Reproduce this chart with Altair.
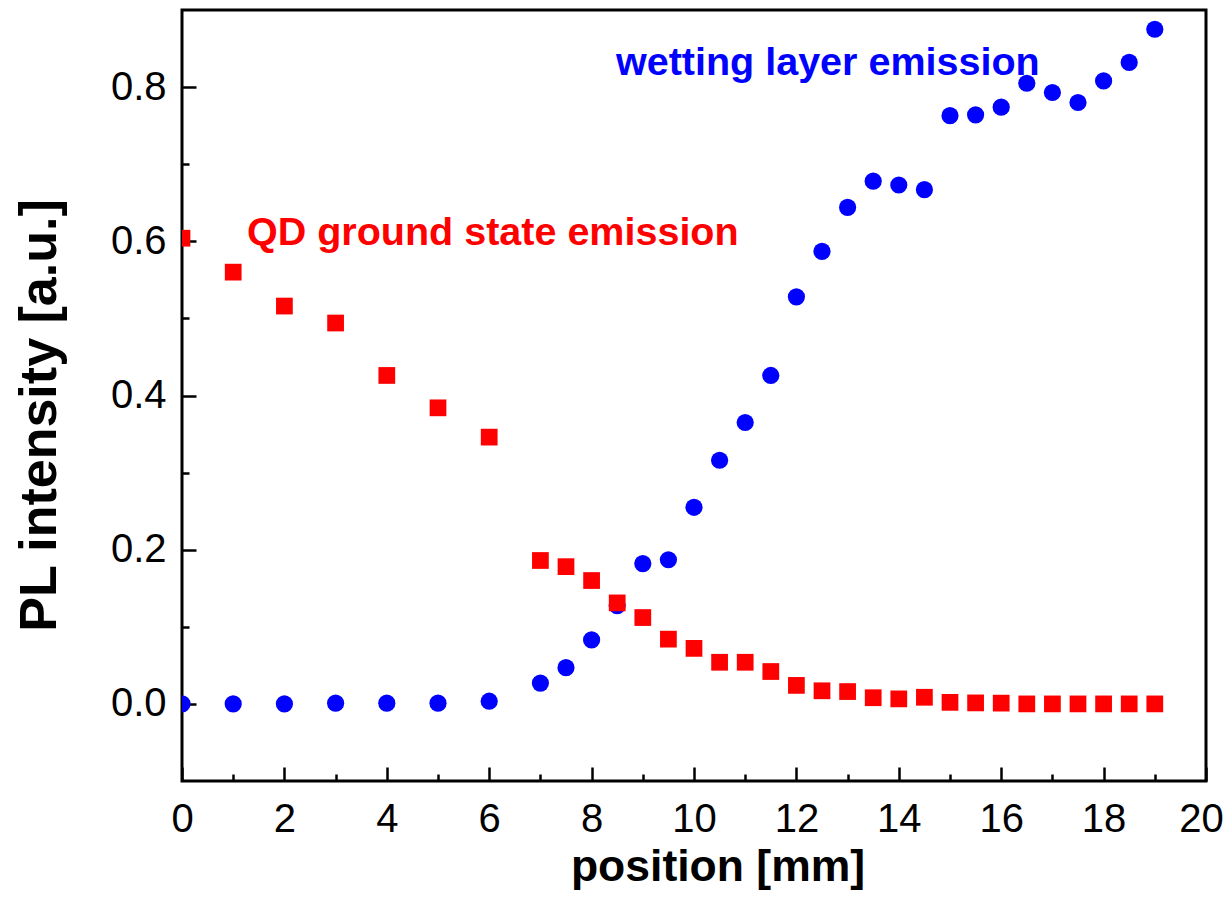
import altair as alt
import pandas as pd

# ---- data ----
position = [0, 1, 2, 3, 4, 5, 6, 7, 7.5, 8, 8.5, 9, 9.5, 10, 10.5, 11, 11.5, 12,
            12.5, 13, 13.5, 14, 14.5, 15, 15.5, 16, 16.5, 17, 17.5, 18, 18.5, 19]
qd_intensity = [0.604, 0.560, 0.516, 0.494, 0.426, 0.384, 0.346,
                0.186, 0.178, 0.160, 0.131, 0.112, 0.084, 0.072, 0.054, 0.054,
                0.042, 0.024, 0.017, 0.016, 0.008, 0.0065, 0.0086, 0.002,
                0.0013, 0.001, 0.0, 0.0, 0.0, 0.0, 0.0, 0.0]
wl_intensity = [0.0, 0.0, 0.0, 0.001, 0.001, 0.001, 0.0035,
                0.027, 0.047, 0.083, 0.1275, 0.182, 0.187, 0.255, 0.316, 0.365,
                0.426, 0.528, 0.587, 0.644, 0.678, 0.673, 0.667, 0.763,
                0.764, 0.774, 0.805, 0.793, 0.780, 0.808, 0.832, 0.875]

x_major_ticks = [0, 2, 4, 6, 8, 10, 12, 14, 16, 18, 20]
x_minor_ticks = [1, 3, 5, 7, 9, 11, 13, 15, 17, 19]
y_major_ticks = [0.0, 0.2, 0.4, 0.6, 0.8]
y_minor_ticks = [0.1, 0.3, 0.5, 0.7]

qd_label = "QD ground state emission"
wl_label = "wetting layer emission"
x_title = "position [mm]"
y_title = "PL intensity [a.u.]"

FONT = "Liberation Sans"
W, H = 1024, 771
RED = "#FF0000"
BLUE = "#0000FF"

df_qd = pd.DataFrame({"position": position, "intensity": qd_intensity})
df_wl = pd.DataFrame({"position": position, "intensity": wl_intensity})
df_xminor = pd.DataFrame({"tick": x_minor_ticks})
df_yminor = pd.DataFrame({"tick": y_minor_ticks})

xscale = alt.Scale(domain=[0, 20], nice=False, zero=False)
yscale = alt.Scale(domain=[-0.1, 0.9], nice=False, zero=False)

def tick_axis_x(values, size):
    return alt.Axis(orient="top", offset=-H, values=values, labels=False, domain=False,
                    ticks=True, tickSize=size, tickWidth=2.5, tickColor="black",
                    grid=False, title=None)

def tick_axis_y(values, size):
    return alt.Axis(orient="right", offset=-W, values=values, labels=False, domain=False,
                    ticks=True, tickSize=size, tickWidth=2.5, tickColor="black",
                    grid=False, title=None)

x_label_axis = alt.Axis(
    orient="bottom", values=x_major_ticks, domain=False, ticks=False, tickSize=0,
    grid=False, labelFont=FONT, labelFontSize=40, labelColor="black",
    labelPadding=18, labelFlush=False, labelOverlap=False, labelBound=False,
    labelOffset={"condition": {"test": "datum.value >= 20", "value": -5}, "value": 0},
    title=x_title, titleFont=FONT, titleFontSize=44.5, titleFontWeight="bold",
    titleColor="black", titleX=535.5, titleY=99.5, titleAlign="center",
    titleBaseline="alphabetic", titleAnchor="middle",
)
y_label_axis = alt.Axis(
    orient="left", values=y_major_ticks, format=".1f", domain=False, ticks=False,
    tickSize=0, grid=False, labelFont=FONT, labelFontSize=40, labelColor="black",
    labelPadding=16, labelFlush=False, labelOverlap=False, labelBound=False,
    title=y_title, titleFont=FONT, titleFontSize=52, titleFontWeight="bold",
    titleColor="black", titleX=-127, titleY=405, titleAlign="center",
    titleBaseline="alphabetic", titleAngle=270, titleAnchor="middle",
)

circles = alt.Chart(df_wl).mark_circle(size=295, color=BLUE, opacity=1, clip=True).encode(
    x=alt.X("position:Q", scale=xscale, axis=tick_axis_x(x_major_ticks, 14)),
    y=alt.Y("intensity:Q", scale=yscale, axis=tick_axis_y(y_major_ticks, 14)),
)

squares = alt.Chart(df_qd).mark_square(size=280, color=RED, opacity=1, clip=True).encode(
    x=alt.X("position:Q", scale=xscale, axis=x_label_axis),
    y=alt.Y("intensity:Q", scale=yscale, axis=y_label_axis),
)

xminor = alt.Chart(df_xminor).mark_point(opacity=0).encode(
    x=alt.X("tick:Q", scale=xscale, axis=tick_axis_x(x_minor_ticks, 7)),
)
yminor = alt.Chart(df_yminor).mark_point(opacity=0).encode(
    y=alt.Y("tick:Q", scale=yscale, axis=tick_axis_y(y_minor_ticks, 7)),
)

qd_text = alt.Chart(pd.DataFrame({"label": [qd_label]})).mark_text(
    font=FONT, fontSize=39.5, fontWeight="bold", color=RED, align="left",
    baseline="alphabetic",
).encode(x=alt.value(65), y=alt.value(235), text="label:N")

wl_text = alt.Chart(pd.DataFrame({"label": [wl_label]})).mark_text(
    font=FONT, fontSize=39.5, fontWeight="bold", color=BLUE, align="left",
    baseline="alphabetic",
).encode(x=alt.value(434), y=alt.value(65), text="label:N")

chart = alt.layer(xminor, yminor, circles, squares, qd_text, wl_text).resolve_axis(
    x="independent", y="independent"
).properties(
    width=W, height=H,
    autosize=alt.AutoSizeParams(type="none"),
    padding={"left": 174, "top": 2, "right": 18, "bottom": 110},
    background="white",
).configure_view(stroke="black", strokeWidth=3)

chart.save("out.html", embed_options={"renderer": "svg", "actions": False})
